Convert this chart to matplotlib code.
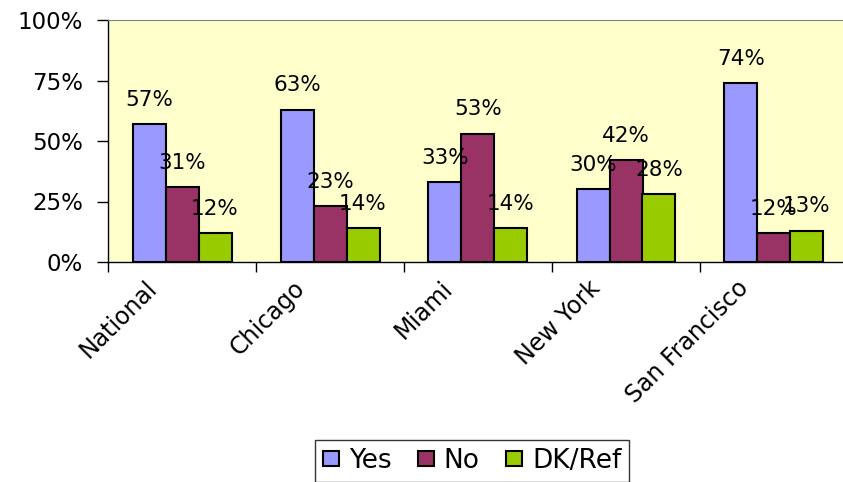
import matplotlib
matplotlib.use("Agg")
import matplotlib.pyplot as plt
import numpy as np

categories = ["National", "Chicago", "Miami", "New York", "San Francisco"]
yes = [57, 63, 33, 30, 74]
no = [31, 23, 53, 42, 12]
dk = [12, 14, 14, 28, 13]
series_names = ["Yes", "No", "DK/Ref"]
colors = ["#9999FF", "#993366", "#99CC00"]
yticks = [0, 25, 50, 75, 100]

plt.rcParams['font.family'] = ['DejaVu Sans']
W, H = 843, 482
fig = plt.figure(figsize=(W / 100, H / 100), dpi=100)
left, right, top, bottom = 108, 848, 20, 262
ax = fig.add_axes([left / W, (H - bottom) / H, (right - left) / W, (bottom - top) / H])
ax.set_facecolor("#FFFFCC")

x = np.arange(len(categories))
bw = 33 / 148
for i, (vals, c, name) in enumerate(zip([yes, no, dk], colors, series_names)):
    xs = x + (i - 1) * bw
    ax.bar(xs, vals, width=bw, color=c, edgecolor="black", linewidth=1.5, label=name, zorder=3)
    for xi, v in zip(xs, vals):
        ax.annotate(f"{v}%", (xi, v), xytext=(0, 17.5), textcoords="offset points",
                    ha="center", va="center", fontsize=15.5, zorder=4)

ax.set_xlim(-0.5, len(categories) - 0.5)
ax.set_ylim(0, 100)
ax.set_yticks(yticks)
ax.set_yticklabels([f"{t}%" for t in yticks], fontsize=16.5)
ax.tick_params(axis="y", direction="out", length=8, width=1, pad=10)

ax.set_xticks(np.arange(len(categories) + 1) - 0.5)
ax.set_xticklabels([])
ax.tick_params(axis="x", which="major", direction="out", length=7, width=1)

for xi, lab in zip(x, categories):
    ax.annotate(lab, (xi, 0), xytext=(-27, -10), textcoords="offset points",
                xycoords="data", rotation=45, rotation_mode="anchor",
                ha="right", va="top", fontsize=17, annotation_clip=False)

ax.spines["right"].set_visible(False)
ax.spines["top"].set_color("#808080")
ax.spines["left"].set_linewidth(1)
ax.spines["bottom"].set_linewidth(1)

leg = fig.legend(loc="upper left", bbox_to_anchor=(315 / W, (H - 440) / H), ncol=3,
                 fontsize=19, frameon=True, fancybox=False, edgecolor="black",
                 handlelength=0.6, handleheight=0.5, handletextpad=0.38, columnspacing=1.0,
                 borderpad=0.3, borderaxespad=0)
leg.get_frame().set_linewidth(1)

fig.savefig("out.png", dpi=100)
